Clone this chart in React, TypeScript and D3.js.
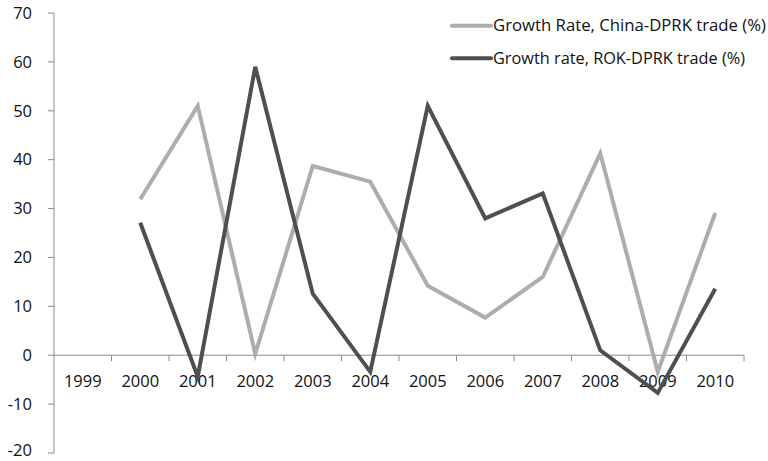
import * as d3 from "d3";

const years = ["1999", "2000", "2001", "2002", "2003", "2004", "2005", "2006", "2007", "2008", "2009", "2010"];
const chinaGrowth: (number | null)[] = [null, 31.9, 51.0, 0.3, 38.7, 35.5, 14.2, 7.7, 16.0, 41.3, -3.4, 29.1];
const rokGrowth: (number | null)[] = [null, 27.1, -4.4, 59.0, 12.6, -3.4, 51.0, 28.0, 33.1, 1.0, -7.7, 13.6];
const yTicks = [-20, -10, 0, 10, 20, 30, 40, 50, 60, 70];
const seriesNames = ["Growth Rate, China-DPRK trade (%)", "Growth rate, ROK-DPRK trade (%)"];

const width = 768;
const height = 461;
const margin = { top: 13, right: 24, bottom: 8, left: 54 };
const font = "'Open Sans', 'Liberation Sans', sans-serif";
const axisColor = "#8c8c8c";
const textColor = "#111";

export default function App() {
  const x = d3
    .scaleBand()
    .domain(years)
    .range([margin.left, width - margin.right]);
  const y = d3
    .scaleLinear()
    .domain([-20, 70])
    .range([height - margin.bottom, margin.top]);

  const line = d3
    .line<number | null>()
    .defined((d) => d !== null)
    .x((_, i) => (x(years[i]) ?? 0) + x.bandwidth() / 2)
    .y((d) => y(d as number));

  const series = [
    { name: seriesNames[0], values: chinaGrowth, color: "#adadad" },
    { name: seriesNames[1], values: rokGrowth, color: "#4f4f4f" },
  ];

  return (
    <div style={{ position: "fixed", left: 0, top: 0 }}>
      <svg width={width} height={height} style={{ display: "block", background: "#fff" }}>
        {/* y axis */}
        <line x1={margin.left} x2={margin.left} y1={y(70)} y2={y(-20)} stroke={axisColor} strokeWidth={1} />
        {yTicks.map((t) => (
          <g key={t}>
            <line x1={margin.left - 6} x2={margin.left} y1={y(t)} y2={y(t)} stroke={axisColor} />
            <text
              x={32}
              y={Math.min(y(t) + 5.8, height - 5)}
              textAnchor="end"
              fontFamily={font}
              fontSize={16.5}
              fill={textColor}
            >
              {t}
            </text>
          </g>
        ))}

        {/* x axis at zero */}
        <line x1={margin.left} x2={width - margin.right} y1={y(0)} y2={y(0)} stroke={axisColor} />
        {years.map((yr) => (
          <line
            key={"t" + yr}
            x1={(x(yr) ?? 0) + x.bandwidth()}
            x2={(x(yr) ?? 0) + x.bandwidth()}
            y1={y(0)}
            y2={y(0) + 6}
            stroke={axisColor}
          />
        ))}
        {years.map((yr) => (
          <text
            key={"l" + yr}
            x={(x(yr) ?? 0) + x.bandwidth() / 2}
            y={y(0) + 32}
            textAnchor="middle"
            fontFamily={font}
            fontSize={16.5}
            fill={textColor}
          >
            {yr}
          </text>
        ))}

        {/* lines */}
        {series.map((s) => (
          <path
            key={s.name}
            d={line(s.values) ?? ""}
            fill="none"
            stroke={s.color}
            strokeWidth={4}
            strokeLinejoin="miter"
          />
        ))}

        {/* legend */}
        {series.map((s, i) => (
          <g key={"lg" + s.name} transform={`translate(452,${25.7 + i * 32.6})`}>
            <line x1={0} x2={39} y1={0} y2={0} stroke={s.color} strokeWidth={4} strokeLinecap="round" />
            <text
              x={41}
              y={0}
              dy="0.35em"
              fontFamily={font}
              fontSize={16}
              fill={textColor}
              textLength={i === 0 ? 273 : 252}
              lengthAdjust="spacingAndGlyphs"
            >
              {s.name}
            </text>
          </g>
        ))}
      </svg>
    </div>
  );
}
